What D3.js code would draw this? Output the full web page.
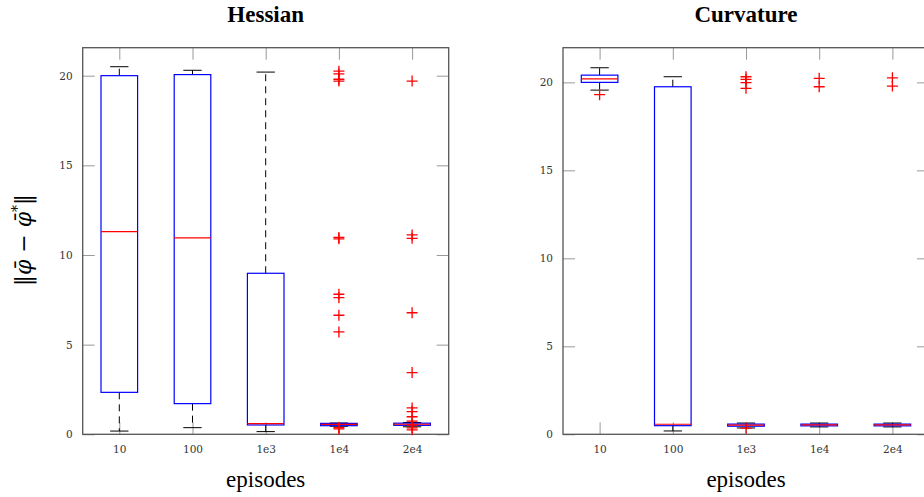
<!DOCTYPE html>
<html>
<head>
  <title>Hessian vs Curvature</title>
  <style>
    body { margin: 0; background: #fff; }
    .tick text { font-family: "DejaVu Serif", serif; font-size: 10.5px; fill: #333; }
    .tick line { stroke: #999; }
    .title { font-family: "Liberation Serif", serif; font-weight: bold; font-size: 23px; }
    .xlabel { font-family: "Liberation Serif", serif; font-size: 23px; }
  </style>
</head>
<body>
  <svg id="chart" width="924" height="497"></svg>

  <script src="https://d3js.org/d3.v7.min.js"></script>
  <script>
    const categories = ['10', '100', '1e3', '1e4', '2e4'];
    const yTicks = [0, 5, 10, 15, 20];

    // Hessian panel, box statistics per category
    const hessianLow  = [0.18, 0.37, 0.15, 0.45, 0.42];
    const hessianQ1   = [2.34, 1.71, 0.52, 0.48, 0.50];
    const hessianMed  = [11.3, 10.95, 0.59, 0.55, 0.56];
    const hessianQ3   = [20.0, 20.06, 8.98, 0.61, 0.62];
    const hessianHigh = [20.5, 20.3, 20.2, 0.63, 0.66];
    const hessianOutliers = [
      [], [], [],
      [20.25, 20.1, 19.8, 19.7, 10.98, 10.9, 7.81, 7.62, 6.64, 5.71, 0.37, 0.3],
      [19.7, 11.12, 10.93, 6.78, 3.44, 1.47, 1.27, 0.98, 0.74, 0.52, 0.36, 0.25]
    ];

    // Curvature panel
    const curvLow  = [19.56, 0.19, 0.36, 0.42, 0.42];
    const curvQ1   = [20.0, 0.49, 0.46, 0.48, 0.48];
    const curvMed  = [20.2, 0.57, 0.52, 0.53, 0.53];
    const curvQ3   = [20.41, 19.75, 0.58, 0.58, 0.58];
    const curvHigh = [20.83, 20.32, 0.64, 0.64, 0.64];
    const curvOutliers = [
      [19.3], [],
      [20.32, 20.17, 19.98, 19.66, 0.35],
      [20.23, 19.75],
      [20.26, 19.79]
    ];

    const svg = d3.select('#chart');

    function drawPanel(opt) {
      const w = 366, h = 386.6;
      const g = svg.append('g').attr('transform', `translate(${opt.left},47.7)`);

      const x = d3.scaleLinear().domain([0.5, 5.5]).range([0, w]);
      const y = d3.scaleLinear().domain([0, opt.yMax]).range([h, 0]);

      // axes with inward ticks
      g.append('g').attr('transform', `translate(0,${h})`)
        .call(d3.axisBottom(x).tickValues([1, 2, 3, 4, 5])
          .tickFormat(d => categories[d - 1]).tickSize(-12).tickPadding(11))
        .call(a => a.select('.domain').remove());
      g.append('g').call(d3.axisTop(x).tickValues([1, 2, 3, 4, 5])
          .tickFormat('').tickSize(-12))
        .call(a => a.select('.domain').remove());
      g.append('g').call(d3.axisLeft(y).tickValues(yTicks).tickSize(-12).tickPadding(10))
        .call(a => a.select('.domain').remove());
      g.append('g').attr('transform', `translate(${w},0)`)
        .call(d3.axisRight(y).tickValues(yTicks).tickFormat('').tickSize(-12))
        .call(a => a.select('.domain').remove());

      g.append('rect').attr('width', w).attr('height', h)
        .attr('fill', 'none').attr('stroke', '#555').attr('stroke-width', 1.3);

      const bw = x(1.25) - x(1);   // half box width
      const cw = bw / 2;            // half cap width

      categories.forEach((c, i) => {
        const cx = x(i + 1);
        // whiskers
        g.append('line').attr('x1', cx).attr('x2', cx)
          .attr('y1', y(opt.q3[i])).attr('y2', y(opt.high[i]))
          .attr('stroke', '#000').attr('stroke-dasharray', '7,5');
        g.append('line').attr('x1', cx).attr('x2', cx)
          .attr('y1', y(opt.q1[i])).attr('y2', y(opt.low[i]))
          .attr('stroke', '#000').attr('stroke-dasharray', '7,5');
        [opt.high[i], opt.low[i]].forEach(v => {
          g.append('line').attr('x1', cx - cw).attr('x2', cx + cw)
            .attr('y1', y(v)).attr('y2', y(v)).attr('stroke', '#000');
        });
        // box
        g.append('rect').attr('x', cx - bw).attr('width', 2 * bw)
          .attr('y', y(opt.q3[i])).attr('height', Math.max(y(opt.q1[i]) - y(opt.q3[i]), 1))
          .attr('fill', 'none').attr('stroke', '#0000ff').attr('stroke-width', 1.2);
        // median
        g.append('line').attr('x1', cx - bw).attr('x2', cx + bw)
          .attr('y1', y(opt.med[i])).attr('y2', y(opt.med[i]))
          .attr('stroke', '#ff0000').attr('stroke-width', 1.2);
        // outliers
        opt.outliers[i].forEach(v => {
          const py = y(v);
          g.append('path').attr('d', `M${cx - 5.5},${py}H${cx + 5.5}M${cx},${py - 5.5}V${py + 5.5}`)
            .attr('stroke', '#ff0000').attr('stroke-width', 1.3).attr('fill', 'none');
        });
      });

      svg.append('text').attr('class', 'title')
        .attr('x', opt.left + w / 2).attr('y', 22)
        .attr('text-anchor', 'middle').text(opt.title);
      svg.append('text').attr('class', 'xlabel')
        .attr('x', opt.left + w / 2).attr('y', 487)
        .attr('text-anchor', 'middle').text('episodes');
    }

    drawPanel({
      left: 82.7, yMax: 21.56, title: 'Hessian',
      low: hessianLow, q1: hessianQ1, med: hessianMed, q3: hessianQ3,
      high: hessianHigh, outliers: hessianOutliers
    });
    drawPanel({
      left: 563, yMax: 21.97, title: 'Curvature',
      low: curvLow, q1: curvQ1, med: curvMed, q3: curvQ3,
      high: curvHigh, outliers: curvOutliers
    });

    // y axis label ||phi_bar - phi_bar*||
    const yl = svg.append('text')
      .attr('transform', 'translate(31,240) rotate(-90)')
      .attr('text-anchor', 'middle')
      .style('font-family', '"DejaVu Serif", serif')
      .style('font-size', '22px');
    yl.append('tspan').text('\u2016');
    yl.append('tspan').style('font-style', 'italic').text('\u03C6\u0304');
    yl.append('tspan').text(' \u2212 ');
    yl.append('tspan').style('font-style', 'italic').text('\u03C6\u0304');
    yl.append('tspan').attr('dy', -9).style('font-size', '14px').text('*');
    yl.append('tspan').attr('dy', 9).text('\u2016');
  </script>
</body>
</html>
